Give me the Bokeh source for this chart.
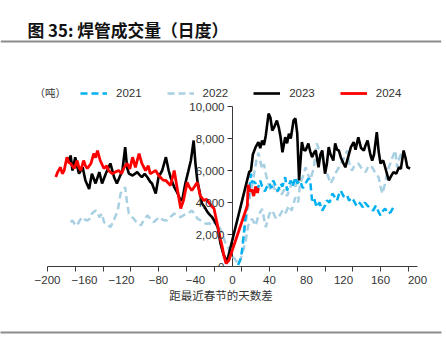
import numpy as np
from bokeh.plotting import figure
from bokeh.models import (Range1d, FixedTicker, LinearAxis, Legend, LegendItem,
                          Label, LabelSet, Span, ColumnDataSource)
from bokeh.core.properties import value
from bokeh.embed import file_html
from bokeh.resources import INLINE

# ---------------- data ----------------
title_text = "图 35: 焊管成交量（日度）"
unit_text = "（吨）"
x_label = "距最近春节的天数差"
x_ticks = [-200, -160, -120, -80, -40, 0, 40, 80, 120, 160, 200]
x_tickmarks = [-200, -170, -140, -110, -80, -50, -20, 10, 40, 70, 100, 130, 160, 190]
y_ticks = [0, 2000, 4000, 6000, 8000, 10000]
y_tick_labels = ["0", "2,000", "4,000", "6,000", "8,000", "10,000"]
series_names = ["2021", "2022", "2023", "2024"]

s2021 = [(6, 100), (9, 500), (11, 1300), (13, 2500), (15, 3500), (17, 4300), (18, 4700), (20, 5800),
         (21, 5270), (23, 5300), (25, 5190), (27, 4800), (30, 5375), (32, 5000), (35, 4700), (37, 4960),
         (40, 5200), (42, 4900), (44, 5375), (47, 5000), (49, 4700), (52, 5190), (54, 5000), (57, 5580),
         (59, 4750), (61, 5100), (63, 5375), (65, 5000), (68, 5580), (70, 5200), (73, 5375), (76, 4900),
         (79, 5190), (82, 5500), (84, 5375), (86, 4125), (88, 4300), (91, 3700), (94, 4000), (97, 3500),
         (100, 3800), (102, 4125), (105, 4000), (108, 4560), (111, 4300), (113, 4125), (115, 4500),
         (117, 4750), (120, 4400), (122, 4330), (124, 4440), (126, 4125), (129, 4300), (131, 4125),
         (134, 3800), (136, 4000), (138, 3940), (141, 3700), (143, 4000), (146, 3810), (149, 3600),
         (152, 3500), (155, 3800), (158, 3400), (160, 3190), (163, 3500), (165, 3625), (168, 3300),
         (171, 3400), (174, 3700)]

s2022 = [(-175, 2770), (-173, 2875), (-170, 2600), (-168, 2560), (-165, 2900), (-162, 3080), (-160, 2950),
         (-157, 2875), (-154, 3000), (-152, 3310), (-148, 3500), (-146, 3400), (-144, 3080), (-141, 3310),
         (-139, 2770), (-136, 2690), (-132, 2460), (-129, 2800), (-127, 3080), (-124, 3500), (-121, 4560),
         (-118, 4800), (-116, 4960), (-114, 4000), (-112, 3310), (-109, 3100), (-107, 3000), (-104, 2800),
         (-101, 2700), (-99, 2560), (-96, 2900), (-92, 3190), (-89, 3000), (-85, 2770), (-82, 2950),
         (-78, 3080), (-75, 2900), (-71, 2875), (-67, 3100), (-63, 3310), (-60, 3200), (-56, 3080),
         (-53, 3200), (-49, 3310), (-46, 3400), (-44, 3500), (-41, 3300), (-38, 3000), (-35, 2900),
         (-31, 2750), (-29, 2670), (-25, 2700), (-22, 2560), (-18, 2875), (-15, 2560), (-11, 2060),
         (-8, 1520), (-4, 1100), (1, 580), (5, 270), (7, 160), (10, 690), (14, 1520), (17, 2560),
         (21, 2980), (25, 2560), (28, 3190), (32, 3600), (36, 2460), (40, 3300), (43, 3500), (47, 3000),
         (50, 3080), (54, 3500), (57, 3310), (61, 3800), (64, 3500), (68, 4330), (71, 4000), (73, 5190),
         (76, 5600), (79, 6200), (82, 5700), (84, 5375), (88, 6200), (91, 7690), (93, 7400), (95, 7250),
         (98, 6600), (100, 6200), (103, 5700), (106, 5190), (109, 5500), (111, 5800), (115, 6200),
         (119, 6625), (122, 6900), (124, 7250), (126, 6500), (129, 6000), (132, 6300), (136, 6440),
         (140, 6100), (144, 5900), (147, 6300), (151, 6200), (154, 5900), (158, 5580), (160, 5000),
         (162, 4560), (165, 5190), (167, 5800), (169, 6200), (171, 6500), (173, 6830), (176, 7250),
         (178, 6200), (180, 6700), (182, 7000), (185, 7250)]

s2022_b = [(11, 1500), (13, 2300), (15, 3000), (17, 3800), (19, 4400), (21, 5000), (24, 6000), (26, 6700),
           (28, 7100), (30, 6600), (32, 6100), (34, 6400), (36, 5800), (38, 5300), (41, 4800), (44, 5100),
           (47, 4600), (50, 4900), (53, 4500), (56, 4800), (59, 4400), (62, 4900), (65, 5300), (68, 5000),
           (71, 5400)]

s2023 = [(-179, 6830), (-177, 6500), (-175, 6940), (-173, 6000), (-170, 6830), (-168, 6300), (-166, 5800),
         (-162, 6200), (-159, 5375), (-155, 4850), (-152, 5800), (-148, 5190), (-144, 5900), (-141, 5190),
         (-137, 5800), (-134, 6200), (-132, 6440), (-128, 5580), (-125, 5190), (-122, 5600), (-119, 6000),
         (-116, 7460), (-114, 6200), (-112, 5800), (-108, 5690), (-103, 5900), (-100, 5700), (-98, 5580),
         (-95, 5800), (-92, 5580), (-89, 5300), (-87, 5190), (-83, 4560), (-80, 5580), (-76, 6000),
         (-72, 6830), (-69, 6000), (-67, 5580), (-63, 4960), (-60, 4650), (-56, 4125), (-54, 4250),
         (-51, 5190), (-48, 5900), (-45, 6625), (-42, 7875), (-40, 6400), (-38, 5375), (-35, 4500),
         (-33, 3940), (-30, 3700), (-27, 3400), (-24, 3200), (-22, 3080), (-19, 2800), (-16, 2460),
         (-13, 1440), (-10, 800), (-6, 300), (18, 5900), (20, 6000), (22, 7000), (25, 7460), (28, 7770),
         (30, 7400), (32, 7875), (34, 7600), (36, 8190), (39, 9560), (41, 9300), (43, 8500), (45, 8700),
         (48, 9125), (50, 8700), (52, 8080), (54, 7140), (57, 8080), (59, 7700), (61, 8300), (63, 8000),
         (66, 9125), (68, 9250), (70, 8300), (72, 5375), (75, 7770), (77, 7300), (79, 7250), (82, 7690),
         (84, 7200), (86, 6830), (88, 7100), (90, 7250), (93, 6200), (95, 7000), (97, 7250), (100, 5800),
         (102, 6400), (104, 7460), (106, 7000), (109, 6625), (111, 7690), (113, 7300), (115, 7250),
         (117, 6830), (120, 6440), (122, 6200), (125, 6830), (128, 7460), (131, 7770), (133, 7300),
         (136, 8080), (139, 7400), (142, 7250), (144, 7600), (146, 7875), (149, 7000), (151, 6625),
         (153, 7000), (156, 8400), (158, 7200), (160, 6440), (163, 6625), (166, 6000), (169, 5375),
         (171, 5600), (174, 5900), (177, 5800), (180, 6200), (182, 6100), (185, 7250), (187, 6800),
         (189, 6200), (192, 6125)]

s2024 = [(-191, 5600), (-189, 5900), (-186, 6200), (-184, 5800), (-182, 6000), (-179, 6830), (-177, 6500),
         (-175, 6440), (-171, 6125), (-168, 6625), (-166, 6200), (-164, 6000), (-161, 6625), (-159, 6300),
         (-157, 6125), (-153, 6440), (-150, 7060), (-148, 6800), (-146, 7250), (-143, 6625), (-139, 6125),
         (-136, 6300), (-134, 6000), (-130, 5800), (-127, 5900), (-123, 6000), (-120, 5800), (-117, 6200),
         (-114, 6440), (-111, 6100), (-108, 6830), (-105, 6200), (-101, 7060), (-98, 6440), (-94, 6000),
         (-91, 6300), (-89, 5800), (-86, 5900), (-83, 6000), (-80, 5700), (-78, 5580), (-75, 5400),
         (-72, 5375), (-69, 5190), (-67, 5060), (-63, 6000), (-60, 4960), (-56, 3625), (-53, 4125),
         (-49, 5270), (-47, 5000), (-44, 4750), (-41, 5000), (-38, 5270), (-35, 4440), (-31, 4125),
         (-28, 4200), (-26, 4020), (-23, 3800), (-20, 3625), (-17, 2800), (-15, 2250), (-13, 1700),
         (-11, 1200), (-9, 600), (-7, 190), (-4, 375), (16, 3800), (17, 5100), (19, 4700), (21, 4800),
         (23, 4400), (25, 5000), (27, 4600), (28, 4900)]

# ---------------- layout / style ----------------
W, H = 446, 337
FR_W, FR_H = 441, 266          # plotting frame covers the canvas width and down to the x axis
PX_PER_DAY = 0.925
DAY0_PX = 232
PX_PER_TON = 0.016
XMIN = -DAY0_PX / PX_PER_DAY
XMAX = XMIN + FR_W / PX_PER_DAY
YMIN = 0
YMAX = FR_H / PX_PER_TON


def sx(px):
    return XMIN + px / PX_PER_DAY


def sy(py):
    return YMAX - py / PX_PER_TON


LATIN = "Liberation Sans"
CJK = "Noto Sans CJK SC"
AX = "#3a3a3a"
TXT = "#333333"
RULE = "#8c8c8c"
C21, C22, C23, C24 = "#00B0F0", "#A8D0E2", "#000000", "#FF0000"


def xy(s):
    return [a for a, _ in s], [b for _, b in s]


p = figure(width=W, height=H, output_backend="svg", toolbar_location=None,
           x_range=Range1d(XMIN, XMAX), y_range=Range1d(YMIN, YMAX),
           x_axis_location=None, y_axis_location=None,
           min_border_left=0, min_border_right=W - FR_W, min_border_top=0,
           min_border_bottom=H - FR_H)
p.outline_line_color = None
p.xgrid.visible = False
p.ygrid.visible = False
p.background_fill_color = "white"

# y axis drawn at day 0
p.segment(x0=[0], y0=[y_ticks[0]], x1=[0], y1=[y_ticks[-1]], line_color=AX, line_width=1)
p.ray(x=[0] * len(y_ticks), y=y_ticks, length=5, length_units="screen", angle=np.pi,
      line_color=AX, line_width=1)
ysrc = ColumnDataSource(dict(x=[0] * len(y_ticks), y=y_ticks, t=y_tick_labels))
p.add_layout(LabelSet(x="x", y="y", text="t", source=ysrc, x_offset=-8, text_align="right",
                      text_baseline="middle", text_font=value(LATIN), text_font_size="11.5px",
                      text_color=TXT))

# series
dash = "7 4"
x, y = xy(s2022)
r22 = p.line(x, y, line_color=C22, line_width=2.5, line_dash=dash)
x, y = xy(s2022_b)
p.line(x, y, line_color=C22, line_width=2.5, line_dash=dash)
x, y = xy(s2021)
r21 = p.line(x, y, line_color=C21, line_width=2.5, line_dash=dash)
x, y = xy(s2023)
r23 = p.line(x, y, line_color=C23, line_width=2.6)
x, y = xy(s2024)
r24 = p.line(x, y, line_color=C24, line_width=2.8)

# x axis
xa = LinearAxis(ticker=FixedTicker(ticks=x_ticks, minor_ticks=x_tickmarks),
                bounds=(x_ticks[0], x_ticks[-1]),
                major_label_overrides={t: str(t).replace("-", "\u2212") for t in x_ticks},
                axis_line_color=AX, axis_line_width=1,
                major_tick_out=0, major_tick_in=0, minor_tick_out=5, minor_tick_in=0,
                minor_tick_line_color=AX, major_label_standoff=4,
                major_label_text_font=LATIN, major_label_text_font_size="11.5px",
                major_label_text_color=TXT,
                axis_label=x_label, axis_label_standoff=0, axis_label_text_font=CJK,
                axis_label_text_font_size="11.5px", axis_label_text_font_style="normal",
                axis_label_text_color=TXT)
p.add_layout(xa, "below")

# invisible spacer axis, then an axis used only for its line (the bottom rule)
spacer = LinearAxis(ticker=FixedTicker(ticks=[]), axis_line_color=None,
                    major_tick_out=0, major_tick_in=0, minor_tick_out=0, minor_tick_in=0,
                    major_label_standoff=0, major_label_text_font_size="0px",
                    axis_label=".", axis_label_standoff=16, axis_label_text_font=LATIN,
                    axis_label_text_font_size="10px", axis_label_text_alpha=0)
p.add_layout(spacer, "below")
rule = LinearAxis(ticker=FixedTicker(ticks=[]), axis_line_color=RULE, axis_line_width=2,
                  major_tick_out=0, major_tick_in=0, minor_tick_out=0, minor_tick_in=0,
                  major_label_standoff=0, major_label_text_font_size="0px")
p.add_layout(rule, "below")

# title, rule, unit
p.add_layout(Label(x=sx(27), y=sy(29), text=title_text, text_baseline="middle",
                   text_font=CJK, text_font_size="16.8px", text_font_style="bold",
                   text_color="#111111"))
p.add_layout(Span(location=sy(41), dimension="width", line_color=RULE, line_width=2))
p.add_layout(Label(x=sx(34), y=sy(92), text=unit_text, text_baseline="middle",
                   text_font=CJK, text_font_size="10.5px", text_color=TXT))

legend = Legend(items=[LegendItem(label=series_names[0], renderers=[r21]),
                       LegendItem(label=series_names[1], renderers=[r22]),
                       LegendItem(label=series_names[2], renderers=[r23]),
                       LegendItem(label=series_names[3], renderers=[r24])],
                orientation="horizontal", location=(80, FR_H - 103), padding=0, margin=0,
                spacing=25, glyph_width=27, glyph_height=20, label_standoff=9,
                label_text_font=LATIN, label_text_font_size="11.5px", label_text_color=TXT,
                border_line_color=None, background_fill_alpha=0)
p.add_layout(legend, "center")

open("out.html", "w").write(file_html(p, INLINE))
